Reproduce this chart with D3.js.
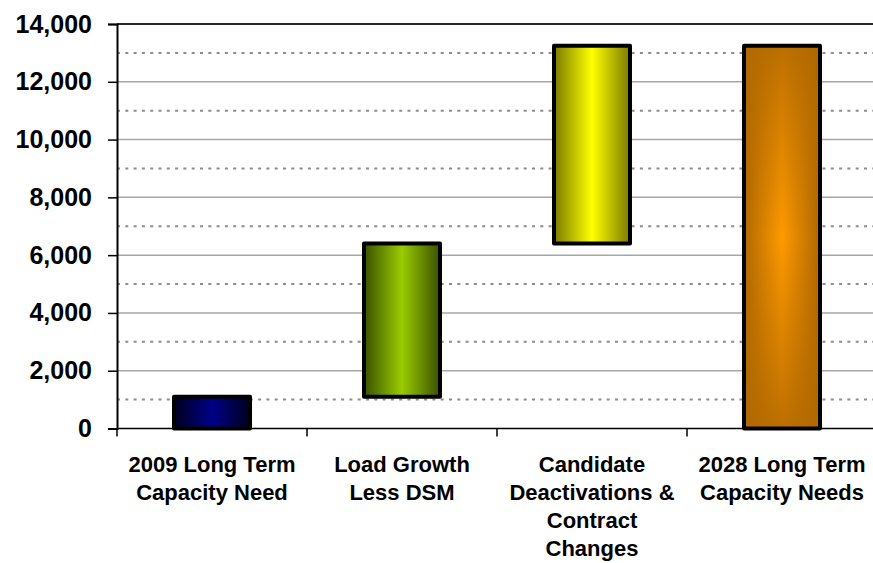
<!DOCTYPE html>
<html>
<head>
<meta charset="utf-8">
<script src="https://cdn.jsdelivr.net/npm/d3@7"></script>
<style>
  html, body { margin: 0; padding: 0; background: #fff; }
  svg { display: block; font-family: Arial, "Liberation Sans", sans-serif; }
</style>
</head>
<body>
<svg id="chart" width="873" height="563"></svg>
<script>
// ---- data ----
const categories = [
  "2009 Long Term Capacity Need",
  "Load Growth Less DSM",
  "Candidate Deactivations & Contract Changes",
  "2028 Long Term Capacity Needs"
];
const categoryLines = [
  ["2009 Long Term", "Capacity Need"],
  ["Load Growth", "Less DSM"],
  ["Candidate", "Deactivations &", "Contract", "Changes"],
  ["2028 Long Term", "Capacity Needs"]
];
const barStart = [0, 1100, 6400, 0];
const barEnd = [1100, 6400, 13250, 13250];
const yTicks = [0, 2000, 4000, 6000, 8000, 10000, 12000, 14000];
const minorTicks = [1000, 3000, 5000, 7000, 9000, 11000, 13000];
const barColors = [
  { edge: "#00001f", mid: "#000088" },
  { edge: "#3a5000", mid: "#9acc00" },
  { edge: "#7a7a00", mid: "#ffff00" },
  { edge: "#b06800", mid: "#ff9a00" }
];

// ---- layout ----
const pLeft = 117, pRight = 877, pTop = 24, pBottom = 428.5;
const svg = d3.select("#chart");

const x = d3.scaleBand().domain(categories).range([pLeft, pRight])
  .paddingInner(0.6).paddingOuter(0.3);
const y = d3.scaleLinear().domain([0, 14000]).range([pBottom, pTop]);

// gradients
const defs = svg.append("defs");
barColors.forEach((c, i) => {
  const g = defs.append("linearGradient").attr("id", "g" + i)
    .attr("x1", "0").attr("x2", "1").attr("y1", "0").attr("y2", "0");
  g.append("stop").attr("offset", "0").attr("stop-color", c.edge);
  g.append("stop").attr("offset", "0.5").attr("stop-color", c.mid);
  g.append("stop").attr("offset", "1").attr("stop-color", c.edge);
});
// vertical shading for last bar (hourglass look)
const vg = defs.append("linearGradient").attr("id", "vshade")
  .attr("x1", "0").attr("x2", "0").attr("y1", "0").attr("y2", "1");
vg.append("stop").attr("offset", "0").attr("stop-color", "#b06800").attr("stop-opacity", 0.85);
vg.append("stop").attr("offset", "0.5").attr("stop-color", "#b06800").attr("stop-opacity", 0);
vg.append("stop").attr("offset", "1").attr("stop-color", "#b06800").attr("stop-opacity", 0.85);

// minor dotted gridlines
svg.append("g").selectAll("line").data(minorTicks).join("line")
  .attr("x1", pLeft).attr("x2", pRight)
  .attr("y1", d => y(d)).attr("y2", d => y(d))
  .attr("stroke", "#8c8c8c").attr("stroke-width", 2)
  .attr("stroke-dasharray", "3,5.3");

// major gridlines
svg.append("g").selectAll("line").data(yTicks.filter(d => d > 0 && d < 14000)).join("line")
  .attr("x1", pLeft).attr("x2", pRight)
  .attr("y1", d => y(d)).attr("y2", d => y(d))
  .attr("stroke", "#a6a6a6").attr("stroke-width", 1.5);

// top border
svg.append("line").attr("x1", pLeft).attr("x2", pRight)
  .attr("y1", y(14000)).attr("y2", y(14000))
  .attr("stroke", "#2a2a2a").attr("stroke-width", 2);

// y axis
const yAxis = d3.axisLeft(y).tickValues(yTicks).tickSize(9).tickPadding(16)
  .tickFormat(d3.format(","));
const ya = svg.append("g").attr("transform", `translate(${pLeft},0)`).call(yAxis);
ya.select(".domain").attr("stroke", "#000").attr("stroke-width", 2);
ya.selectAll(".tick line").attr("stroke", "#000").attr("stroke-width", 1.5);
ya.selectAll(".tick text").attr("font-size", 25).attr("font-weight", "bold")
  .attr("fill", "#000").attr("font-family", "Arial, 'Liberation Sans', sans-serif");

// x axis line + ticks at band boundaries
svg.append("line").attr("x1", pLeft).attr("x2", pRight)
  .attr("y1", pBottom).attr("y2", pBottom).attr("stroke", "#000").attr("stroke-width", 1.5);
const step = x.step();
svg.append("g").selectAll("line").data(categories).join("line")
  .attr("x1", d => x(d) - x.paddingOuter() * step)
  .attr("x2", d => x(d) - x.paddingOuter() * step)
  .attr("y1", pBottom).attr("y2", pBottom + 8)
  .attr("stroke", "#000").attr("stroke-width", 1.5);

// bars
svg.append("g").selectAll("rect").data(categories).join("rect")
  .attr("x", d => x(d))
  .attr("width", x.bandwidth())
  .attr("y", (d, i) => y(barEnd[i]))
  .attr("height", (d, i) => y(barStart[i]) - y(barEnd[i]))
  .attr("fill", (d, i) => `url(#g${i})`);
// hourglass overlay on last bar
svg.append("rect")
  .attr("x", x(categories[3])).attr("width", x.bandwidth())
  .attr("y", y(barEnd[3])).attr("height", y(barStart[3]) - y(barEnd[3]))
  .attr("fill", "url(#vshade)");
svg.append("g").selectAll("rect").data(categories).join("rect")
  .attr("x", d => x(d))
  .attr("width", x.bandwidth())
  .attr("y", (d, i) => y(barEnd[i]))
  .attr("height", (d, i) => y(barStart[i]) - y(barEnd[i]))
  .attr("fill", "none").attr("stroke", "#000").attr("stroke-width", 4)
  .attr("stroke-linejoin", "round");

// category labels
const lab = svg.append("g").selectAll("text").data(categories).join("text")
  .attr("x", d => x(d) + x.bandwidth() / 2)
  .attr("y", 472)
  .attr("text-anchor", "middle")
  .attr("font-size", 22).attr("font-weight", "bold").attr("fill", "#000");
lab.each(function(d, i) {
  d3.select(this).selectAll("tspan").data(categoryLines[i]).join("tspan")
    .attr("x", x(d) + x.bandwidth() / 2)
    .attr("dy", (t, j) => j === 0 ? 0 : 28)
    .text(t => t);
});
</script>
</body>
</html>
